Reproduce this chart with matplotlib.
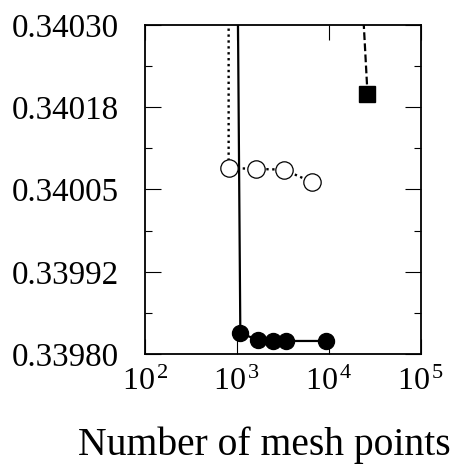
import numpy as np
import matplotlib
matplotlib.use('Agg')
import matplotlib.pyplot as plt
from matplotlib.ticker import FixedLocator, LogLocator, NullFormatter

plt.rcParams['font.family'] = ['Liberation Serif', 'DejaVu Serif']
plt.rcParams['mathtext.fontset'] = 'custom'
plt.rcParams['mathtext.rm'] = 'Liberation Serif'
plt.rcParams['mathtext.it'] = 'Liberation Serif:italic'

# filled circles, solid line (first point lies above the plotted range)
solid_x = [1000, 1087, 1680, 2450, 3420, 9350]
solid_y = [0.3405, 0.33983125, 0.3398219, 0.3398198, 0.3398198, 0.3398198]

# open circles, dotted line
dotted_x = [811, 811, 1611, 3229, 6470]
dotted_y = [0.3405, 0.34008281, 0.34008125, 0.3400802, 0.34006146]

# filled square, dashed line
dashed_x = [20000, 26200]
dashed_y = [0.3405, 0.34019583]

xticks = [1e2, 1e3, 1e4, 1e5]
xticklabels = [r'$10^{\,2}$', r'$10^{\,3}$', r'$10^{\,4}$', r'$10^{\,5}$']
yticks = [0.3398, 0.339925, 0.34005, 0.340175, 0.3403]
yticklabels = ['0.33980', '0.33992', '0.34005', '0.34018', '0.34030']
yminor = [0.3398625, 0.3399875, 0.3401125, 0.3402375]

fig = plt.figure(figsize=(4.6, 4.67), dpi=100)
ax = fig.add_axes([145/460, 1 - 354/467, 276/460, 329/467])

ax.plot(solid_x, solid_y, '-', color='black', lw=1.6,
        marker='o', ms=11.5, mfc='black', mec='black')
ax.plot(dotted_x, dotted_y, color='black', lw=1.7, linestyle=(0, (1, 1.5)),
        marker='o', ms=12.5, mfc='white', mec='black', mew=0.9)
ax.plot(dashed_x, dashed_y, color='black', lw=1.6, linestyle=(0, (3.5, 1.5)),
        marker='s', ms=11.5, mfc='black', mec='black')

ax.set_xscale('log')
ax.set_xlim(1e2, 1e5)
ax.set_ylim(0.3398, 0.3403)

ax.set_xticks(xticks)
ax.set_xticklabels(xticklabels)
ax.xaxis.set_minor_locator(LogLocator(base=10, subs=np.arange(2, 10)))
ax.xaxis.set_minor_formatter(NullFormatter())

ax.set_yticks(yticks)
ax.set_yticklabels(yticklabels)
ax.yaxis.set_minor_locator(FixedLocator(yminor))

ax.tick_params(which='both', direction='in', top=True, right=True, width=0.8)
ax.tick_params(axis='x', which='major', length=11, pad=10, labelsize=23)
ax.tick_params(axis='x', which='minor', length=3.6)
ax.tick_params(axis='y', which='major', length=11.5, pad=19, labelsize=23.8)
ax.tick_params(axis='y', which='minor', length=5)

for s in ax.spines.values():
    s.set_linewidth(1.3)

fig.text(264/460, 1 - 455/467, 'Number of mesh points', fontsize=28.5,
         ha='center', va='baseline')

fig.savefig('out.png', dpi=100)
